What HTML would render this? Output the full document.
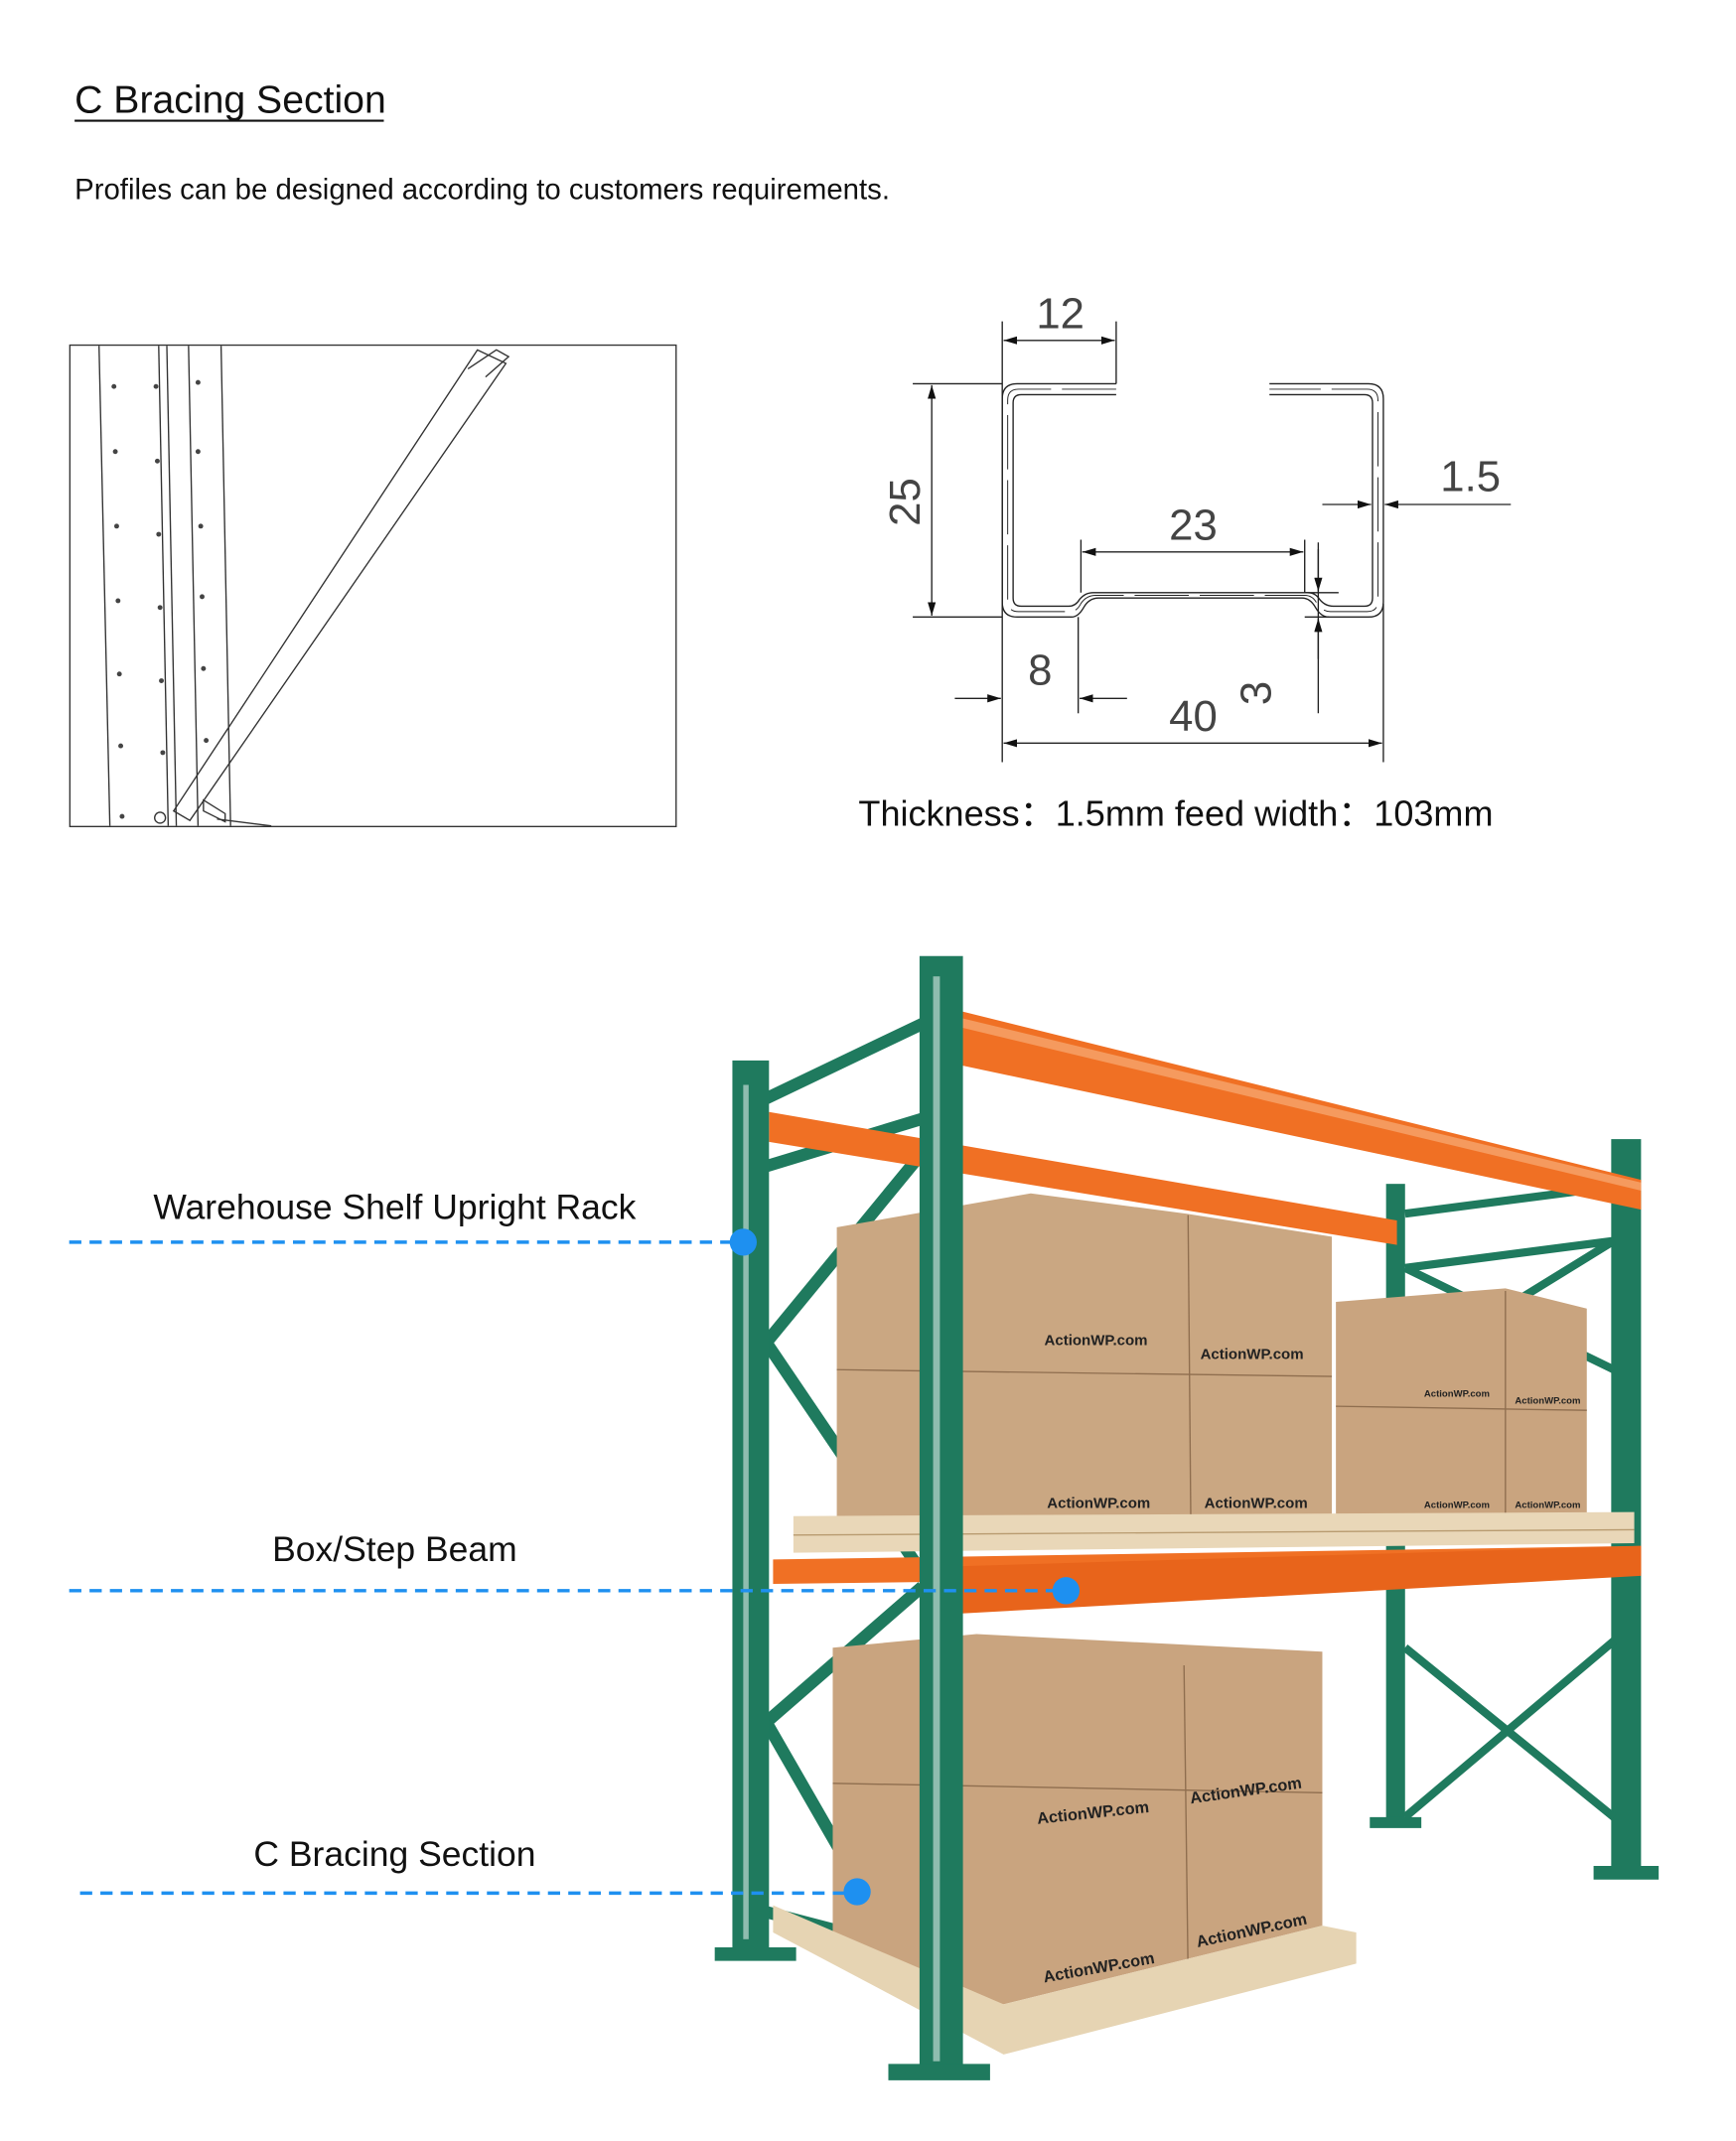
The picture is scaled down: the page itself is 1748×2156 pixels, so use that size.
<!DOCTYPE html>
<html><head><meta charset="utf-8"><style>
html,body{margin:0;padding:0;background:#fff}
svg{display:block}
text{font-family:"Liberation Sans","Noto Sans CJK SC",sans-serif}
</style></head><body>
<svg width="1748" height="2156" viewBox="0 0 1280 1578.8" xmlns="http://www.w3.org/2000/svg">
<defs>
<marker id="ar" viewBox="0 0 10 6" refX="10" refY="3" markerWidth="10" markerHeight="6" orient="auto-start-reverse" markerUnits="userSpaceOnUse"><path d="M0,0L10,3L0,6z" fill="#111"/></marker>
</defs>
<!-- header -->
<text x="55" y="83" font-size="28.7" fill="#111">C Bracing Section</text>
<line x1="55" y1="89" x2="283" y2="89" stroke="#111" stroke-width="1.6"/>
<text x="55" y="147" font-size="21.5" fill="#111">Profiles can be designed according to customers requirements.</text>

<!-- left drawing box -->
<rect x="51.5" y="254.5" width="447" height="355" fill="#fff" stroke="#333" stroke-width="1"/>
<g stroke="#333" stroke-width="1" fill="none">
<line x1="73" y1="255" x2="81" y2="609"/><line x1="117" y1="255" x2="124" y2="609"/>
<line x1="123" y1="255" x2="130" y2="609"/><line x1="139" y1="255" x2="146" y2="609"/>
<line x1="163" y1="255" x2="170" y2="609"/>
<path d="M352,258 L373,268 L140,605 L128,598 Z"/>
<path d="M345,272 L366,258 L375,263 L358,278"/>
<path d="M150,590 L166,600 L166,606 L150,598Z"/>
<line x1="160" y1="604" x2="200" y2="609"/>
<circle cx="118" cy="603" r="4"/>
</g>
<g fill="#444">
<circle cx="84" cy="285" r="1.8"/><circle cx="85" cy="333" r="1.8"/><circle cx="86" cy="388" r="1.8"/><circle cx="87" cy="443" r="1.8"/><circle cx="88" cy="497" r="1.8"/><circle cx="89" cy="550" r="1.8"/><circle cx="90" cy="602" r="1.8"/>
<circle cx="115" cy="285" r="1.8"/><circle cx="116" cy="340" r="1.8"/><circle cx="117" cy="394" r="1.8"/><circle cx="118" cy="448" r="1.8"/><circle cx="119" cy="502" r="1.8"/><circle cx="120" cy="555" r="1.8"/>
<circle cx="146" cy="282" r="1.8"/><circle cx="146" cy="333" r="1.8"/><circle cx="148" cy="388" r="1.8"/><circle cx="149" cy="440" r="1.8"/><circle cx="150" cy="493" r="1.8"/><circle cx="152" cy="546" r="1.8"/>
</g>

<!-- C profile -->
<g fill="none" stroke="#222" stroke-width="1">
<path d="M823,283 H750 Q739,283 739,294 V444 Q739,455 750,455 H790 Q795,455 799,448 Q803,441 810,441 H960 Q966,441 970,448 Q974,455 980,455 H1009 Q1020,455 1020,444 V294 Q1020,283 1009,283 H936"/>
<path d="M823,291 H753 Q747,291 747,297 V441 Q747,447 753,447 H788 Q793,447 796,442 Q800,437 806,437 H964 Q970,437 973,442 Q977,447 983,447 H1006 Q1012,447 1012,441 V297 Q1012,291 1006,291 H936"/>
<path d="M823,287 H751 Q743,287 743,295 V443 Q743,451 751,451 H789 Q794,451 797,445 Q801,439 808,439 H962 Q968,439 971,445 Q975,451 981,451 H1008 Q1016,451 1016,443 V295 Q1016,287 1008,287 H936" stroke-dasharray="40 8" stroke-width="0.7"/>
<line x1="739" y1="237" x2="739" y2="562"/>
<line x1="823" y1="237" x2="823" y2="283"/>
<line x1="1020" y1="445" x2="1020" y2="562"/>
<line x1="673" y1="283" x2="739" y2="283"/>
<line x1="673" y1="455" x2="739" y2="455"/>
<line x1="795" y1="455" x2="795" y2="526"/>
<line x1="797" y1="398" x2="797" y2="437"/>
<line x1="962" y1="398" x2="962" y2="437"/>
<line x1="962" y1="437" x2="987" y2="437"/>
<line x1="962" y1="455" x2="980" y2="455"/>
<line x1="972" y1="400" x2="972" y2="526"/>
<line x1="740" y1="251" x2="822" y2="251" marker-start="url(#ar)" marker-end="url(#ar)"/>
<line x1="687" y1="284" x2="687" y2="454" marker-start="url(#ar)" marker-end="url(#ar)"/>
<line x1="798" y1="407" x2="961" y2="407" marker-start="url(#ar)" marker-end="url(#ar)"/>
<line x1="740" y1="548" x2="1019" y2="548" marker-start="url(#ar)" marker-end="url(#ar)"/>
<line x1="704" y1="515" x2="738" y2="515" marker-end="url(#ar)"/>
<line x1="831" y1="515" x2="796" y2="515" marker-end="url(#ar)"/>
<line x1="972" y1="405" x2="972" y2="436" marker-end="url(#ar)"/>
<line x1="972" y1="486" x2="972" y2="456" marker-end="url(#ar)"/>
<line x1="975" y1="372" x2="1011" y2="372" marker-end="url(#ar)"/>
<line x1="1114" y1="372" x2="1021" y2="372" marker-end="url(#ar)"/>
</g>
<g fill="#444" font-size="32">
<text x="764" y="242">12</text>
<text x="862" y="398">23</text>
<text x="1062" y="362">1.5</text>
<text x="758" y="505">8</text>
<text x="862" y="539">40</text>
<text transform="translate(678,388) rotate(-90)">25</text>
<text transform="translate(937,520) rotate(-90)">3</text>
</g>
<text x="633" y="609" font-size="26.4" fill="#111">Thickness：1.5mm feed width：103mm</text>

<!-- rack -->
<g fill="#1f7a5e">
<rect x="1022" y="873" width="14" height="470"/>
<rect x="1188" y="840" width="22" height="540"/>
<path d="M1010,1340h38v8h-38z M1175,1376h48v10h-48z"/>
</g>
<g stroke="#1f7a5e" stroke-width="6" fill="none">
<line x1="1036" y1="895" x2="1190" y2="875"/>
<line x1="1036" y1="935" x2="1190" y2="915"/>
<line x1="1036" y1="935" x2="1190" y2="1010"/>
<line x1="1036" y1="1010" x2="1190" y2="915"/>
<line x1="1036" y1="1215" x2="1190" y2="1340"/>
<line x1="1036" y1="1340" x2="1190" y2="1210"/>
</g>
<g stroke="#1f7a5e" stroke-width="9" fill="none">
<line x1="565" y1="810" x2="680" y2="755"/>
<line x1="565" y1="860" x2="680" y2="825"/>
<line x1="565" y1="990" x2="680" y2="850"/>
<line x1="565" y1="990" x2="680" y2="1160"/>
<line x1="565" y1="1270" x2="680" y2="1170"/>
<line x1="565" y1="1270" x2="680" y2="1470"/>
<line x1="565" y1="1410" x2="680" y2="1440"/>
</g>
<polygon points="706,745 1210,870 1210,892 706,785" fill="#f07024"/>
<polygon points="706,750 1210,872 1210,878 706,757" fill="#f59a5e"/>
<polygon points="567,820 1030,900 1030,918 567,842" fill="#f07024"/>
<polygon points="985,960 1110,950 1170,965 1170,1120 985,1120" fill="#c9a47f"/>
<line x1="1110" y1="952" x2="1110" y2="1120" stroke="#8f6e4f"/>
<line x1="985" y1="1037" x2="1170" y2="1040" stroke="#8f6e4f"/>
<polygon points="617,905 760,880 875,895 982,912 982,1120 617,1120" fill="#caa782"/>
<line x1="876" y1="896" x2="878" y2="1120" stroke="#8f6e4f"/>
<line x1="617" y1="1010" x2="982" y2="1015" stroke="#8f6e4f"/>
<g font-size="11" font-weight="bold" fill="#222">
<text x="770" y="992">ActionWP.com</text><text x="885" y="1002">ActionWP.com</text>
<text x="772" y="1112">ActionWP.com</text><text x="888" y="1112">ActionWP.com</text>
<text x="1050" y="1030" font-size="7">ActionWP.com</text><text x="1117" y="1035" font-size="7">ActionWP.com</text>
<text x="1050" y="1112" font-size="7">ActionWP.com</text><text x="1117" y="1112" font-size="7">ActionWP.com</text>
</g>
<polygon points="585,1118 1205,1115 1205,1138 585,1145" fill="#e9d7b8"/>
<line x1="585" y1="1132" x2="1205" y2="1128" stroke="#b89b70"/>
<polygon points="570,1150 1210,1140 1210,1160 570,1168" fill="#f07024"/>
<polygon points="706,1155 1210,1140 1210,1162 706,1190" fill="#e8641b"/>
<polygon points="614,1215 720,1205 975,1218 975,1420 740,1478 614,1440" fill="#c9a47f"/>
<line x1="873" y1="1228" x2="876" y2="1455" stroke="#8f6e4f"/>
<line x1="614" y1="1315" x2="975" y2="1322" stroke="#8f6e4f"/>
<g font-size="12" font-weight="bold" fill="#222">
<text x="765" y="1345" transform="rotate(-6 765 1345)">ActionWP.com</text>
<text x="878" y="1330" transform="rotate(-8 878 1330)">ActionWP.com</text>
<text x="770" y="1462" transform="rotate(-10 770 1462)">ActionWP.com</text>
<text x="883" y="1436" transform="rotate(-12 883 1436)">ActionWP.com</text>
</g>
<polygon points="570,1405 740,1478 975,1420 1000,1425 1000,1448 740,1515 570,1425" fill="#e6d4b3"/>
<g fill="#1f7a5e">
<rect x="540" y="782" width="27" height="660"/>
<rect x="678" y="705" width="32" height="825"/>
<path d="M527,1436h60v10h-60z M655,1522h75v12h-75z"/>
</g>
<g fill="#fff">
<rect x="548" y="800" width="4" height="630" opacity="0.5"/>
<rect x="688" y="720" width="5" height="800" opacity="0.5"/>
</g>

<g font-size="26" fill="#111" text-anchor="middle">
<text x="291" y="899">Warehouse Shelf Upright Rack</text>
<text x="291" y="1151">Box/Step Beam</text>
<text x="291" y="1376">C Bracing Section</text>
</g>
<g stroke="#1e90f0" stroke-width="2.5" stroke-dasharray="9 6">
<line x1="51" y1="916" x2="548" y2="916"/>
<line x1="51" y1="1173" x2="786" y2="1173"/>
<line x1="59" y1="1396" x2="632" y2="1396"/>
</g>
<g fill="#1e90f0">
<circle cx="548" cy="916" r="10"/><circle cx="786" cy="1173" r="10"/><circle cx="632" cy="1395" r="10"/>
</g>
</svg>
</body></html>
